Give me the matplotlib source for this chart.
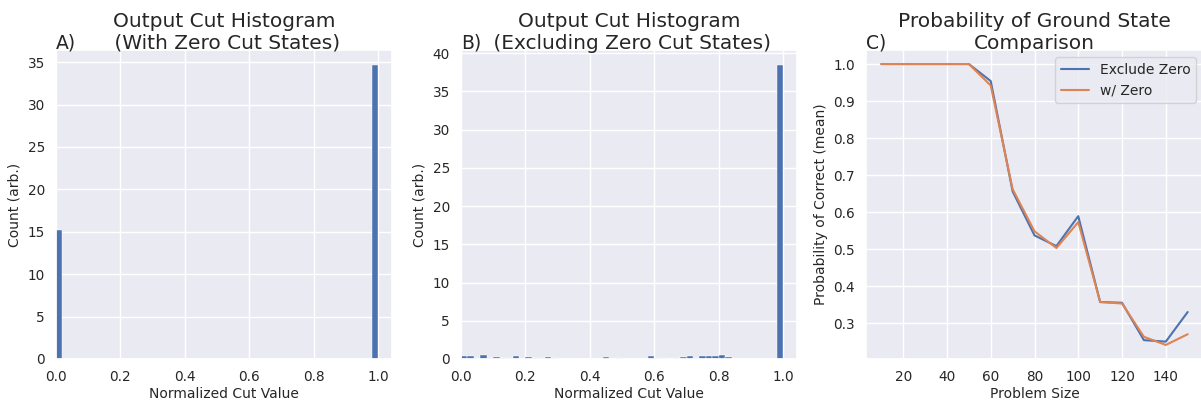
"""Cut histograms (with / without zero cut states) and ground state probability vs problem size."""

import numpy as np
import matplotlib
matplotlib.use("Agg")
import matplotlib.pyplot as plt
import seaborn as sns

sns.set_theme(style="darkgrid")
plt.rcParams["font.family"] = ["DejaVu Sans"]

# 50 bins over [0, 1]
bin_edges = np.linspace(0.0, 1.0, 51)

# Panel A: density per bin, only first and last bins are filled
with_zero_counts = [0.0] * 50
with_zero_counts[0] = 15.2
with_zero_counts[49] = 34.7

# Panel B: density per bin (zero-cut states removed)
excl_zero_counts = [
    0.40, 0.43, 0.10, 0.50, 0.10, 0.25, 0.10, 0.10, 0.35, 0.05,
    0.20, 0.10, 0.10, 0.25, 0.10, 0.05, 0.05, 0.05, 0.05, 0.05,
    0.05, 0.00, 0.25, 0.05, 0.10, 0.05, 0.00, 0.00, 0.00, 0.35,
    0.10, 0.10, 0.00, 0.10, 0.20, 0.45, 0.15, 0.35, 0.35, 0.35,
    0.50, 0.25, 0.05, 0.00, 0.00, 0.00, 0.00, 0.00, 0.00, 38.5,
]

# Panel C
problem_sizes = [10, 20, 30, 40, 50, 60, 70, 80, 90, 100, 110, 120, 130, 140, 150]
p_exclude_zero = [1.0, 1.0, 1.0, 1.0, 1.0, 0.954, 0.656, 0.537, 0.508, 0.589,
                  0.357, 0.355, 0.254, 0.250, 0.330]
p_with_zero = [1.0, 1.0, 1.0, 1.0, 1.0, 0.942, 0.662, 0.548, 0.503, 0.573,
               0.357, 0.353, 0.263, 0.241, 0.270]

W, H = 1201, 404
fig = plt.figure(figsize=(W / 100, H / 100), dpi=100)

bottom = (H - 359) / H
height = 309 / H
ax_a = fig.add_axes([56 / W, bottom, 336 / W, height])
ax_b = fig.add_axes([461 / W, bottom, 336 / W, height])
ax_c = fig.add_axes([866 / W, bottom, 337 / W, height])

blue = sns.color_palette("deep")[0]
orange = sns.color_palette("deep")[1]

TITLE_FS = 14.5
LABEL_FS = 10
TICK_FS = 9.8

for ax, counts, title, tag, yticks in [
    (ax_a, with_zero_counts, "Output Cut Histogram\n (With Zero Cut States)", "A)", range(0, 36, 5)),
    (ax_b, excl_zero_counts, "Output Cut Histogram\n (Excluding Zero Cut States)", "B)", range(0, 41, 5)),
]:
    ax.bar(bin_edges[:-1], counts, width=np.diff(bin_edges), align="edge",
           color=blue, edgecolor="white", linewidth=0.3)
    ax.set_xlim(0, 1.043)
    ax.set_ylim(0, max(counts) * 1.05)
    ax.set_yticks(list(yticks))
    ax.set_xticks([0.0, 0.2, 0.4, 0.6, 0.8, 1.0])
    ax.set_xlabel("Normalized Cut Value", fontsize=LABEL_FS, labelpad=2)
    ax.set_ylabel("Count (arb.)", fontsize=LABEL_FS)
    ax.set_title(title, fontsize=TITLE_FS, pad=6)
    ax.set_title(tag, loc="left", fontsize=TITLE_FS - 1, pad=1)
    ax.tick_params(labelsize=TICK_FS, pad=2)

ax_c.plot(problem_sizes, p_exclude_zero, color=blue, lw=1.5, label="Exclude Zero")
ax_c.plot(problem_sizes, p_with_zero, color=orange, lw=1.5, label="w/ Zero")
ax_c.set_xticks([20, 40, 60, 80, 100, 120, 140])
ax_c.set_yticks([0.3, 0.4, 0.5, 0.6, 0.7, 0.8, 0.9, 1.0])
ax_c.set_xlabel("Problem Size", fontsize=LABEL_FS, labelpad=2)
ax_c.set_ylabel("Probability of Correct (mean)", fontsize=LABEL_FS)
ax_c.set_title("Probability of Ground State\nComparison", fontsize=TITLE_FS, pad=6)
ax_c.set_title("C)", loc="left", fontsize=TITLE_FS - 1, pad=1)
ax_c.tick_params(labelsize=TICK_FS, pad=2)
ax_c.legend(loc="upper right", fontsize=LABEL_FS)

fig.savefig("out.png", dpi=100)
